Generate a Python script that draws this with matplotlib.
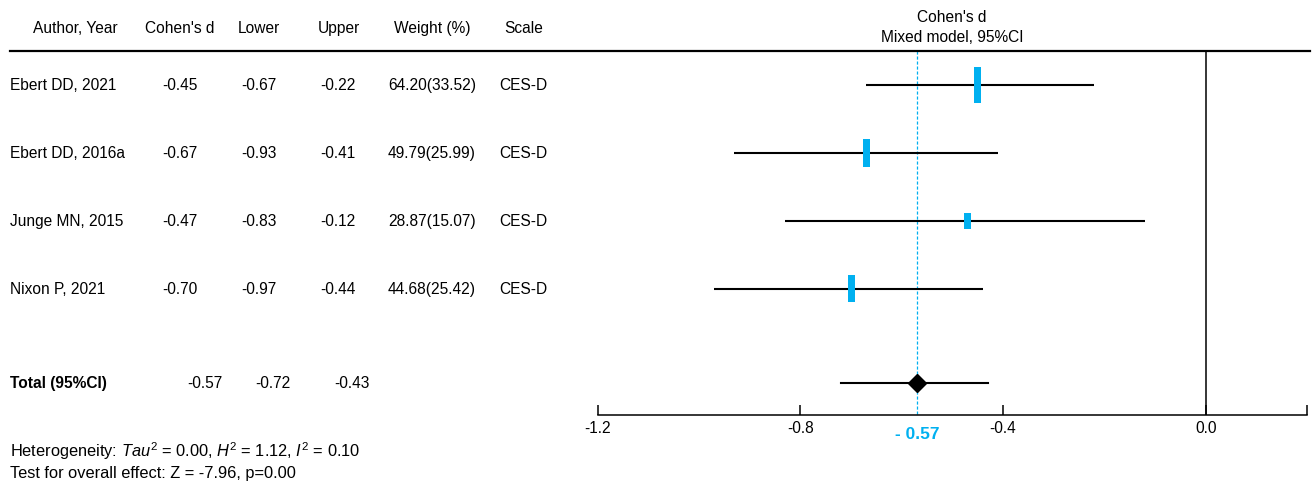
import matplotlib.pyplot as plt
import matplotlib.transforms as mtransforms
from matplotlib.lines import Line2D

plt.rcParams['font.family'] = ['Liberation Sans', 'DejaVu Sans']
plt.rcParams['mathtext.fontset'] = 'custom'
plt.rcParams['mathtext.rm'] = 'Liberation Sans'
plt.rcParams['mathtext.it'] = 'Liberation Sans:italic'

# data
studies = ['Ebert DD, 2021', 'Ebert DD, 2016a', 'Junge MN, 2015', 'Nixon P, 2021']
cohens_d = [-0.45, -0.67, -0.47, -0.70]
lower = [-0.67, -0.93, -0.83, -0.97]
upper = [-0.22, -0.41, -0.12, -0.44]
weight_raw = ['64.20', '49.79', '28.87', '44.68']
weight_pct = [33.52, 25.99, 15.07, 25.42]
scale = ['CES-D', 'CES-D', 'CES-D', 'CES-D']
total_d, total_lo, total_hi = -0.57, -0.72, -0.43
xticks = [-1.2, -0.8, -0.4, 0.0]
headers = ['Author, Year', "Cohen's d", 'Lower', 'Upper', 'Weight (%)', 'Scale']

blue = '#00B0F0'
fs = 11.2

W, H = 1312, 484
fig = plt.figure(figsize=(W / 100, H / 100), dpi=100)
ax = fig.add_axes([597.7 / W, (H - 415) / H, (1307 - 597.7) / W, (415 - 51) / H])

row_px = 68.0
y_top, y_bot = (51 - 84) / row_px, (415 - 84) / row_px
ax.set_xlim(-1.2, 0.2)
ax.set_ylim(y_bot, y_top)
total_y = (383 - 84) / row_px

# study CIs and weight boxes
px_x = 1.4 / (1307 - 597.7)
for i in range(len(studies)):
    ax.plot([lower[i], upper[i]], [i + 0.01, i + 0.01], color='black', lw=1.5, solid_capstyle='butt', zorder=2)
    h = weight_pct[i] * 1.07 / row_px
    ax.bar(cohens_d[i], h, width=7 * px_x, bottom=i + 0.01 - h / 2, color=blue, zorder=3)

# pooled estimate
ax.plot([total_lo, total_hi], [total_y, total_y], color='black', lw=1.5, zorder=2)
ax.plot(total_d, total_y, marker='D', color='black', markersize=9.5, zorder=4)
ax.plot([total_d, total_d], [y_top, y_bot], color=blue, lw=0.9, ls=(0, (2.5, 1.5)), zorder=1)
ax.plot([0, 0], [y_top, y_bot], color='black', lw=1.1, zorder=1)

# axis
for s in ['left', 'top', 'right']:
    ax.spines[s].set_visible(False)
ax.spines['bottom'].set_linewidth(1.1)
ax.set_xticks(xticks + [0.2])
ax.set_xticklabels(['%.1f' % t for t in xticks] + [''], fontsize=fs)
ax.tick_params(axis='x', direction='in', length=7.5, width=1.1, pad=4)
ax.set_yticks([])
ax.text(total_d, (434 - 84) / row_px, '- %.2f' % abs(total_d), color=blue, fontsize=12.5,
        fontweight='bold', ha='center', va='center', clip_on=False)

# table text
tr = mtransforms.blended_transform_factory(fig.transFigure, ax.transData)
def put(xpx, y, s, **kw):
    ax.text(xpx / W, y, s, transform=tr, va='center', clip_on=False, **kw)

header_x = [75, 180, 259, 339, 432, 524]
hy = (29 - 84) / row_px
for x, s in zip(header_x, headers):
    put(x, hy, s, ha='center', fontsize=fs)

for i in range(len(studies)):
    put(10, i + 0.02, studies[i], ha='left', fontsize=fs)
    put(180, i + 0.02, '%.2f' % cohens_d[i], ha='center', fontsize=fs)
    put(259, i + 0.02, '%.2f' % lower[i], ha='center', fontsize=fs)
    put(338, i + 0.02, '%.2f' % upper[i], ha='center', fontsize=fs)
    put(432, i + 0.02, '%s(%.2f)' % (weight_raw[i], weight_pct[i]), ha='center', fontsize=fs)
    put(523, i + 0.02, scale[i], ha='center', fontsize=fs)

put(10, total_y, 'Total (95%CI)', ha='left', fontweight='bold', fontsize=fs)
put(205, total_y, '%.2f' % total_d, ha='center', fontsize=fs)
put(273, total_y, '%.2f' % total_lo, ha='center', fontsize=fs)
put(352, total_y, '%.2f' % total_hi, ha='center', fontsize=fs)

put(10, (451 - 84) / row_px, r'Heterogeneity: $Tau^2$ = 0.00, $H^2$ = 1.12, $I^2$ = 0.10', ha='left', fontsize=11.8)
put(10, (473 - 84) / row_px, 'Test for overall effect: Z = -7.96, p=0.00', ha='left', fontsize=11.8)

put(952, (18 - 84) / row_px, "Cohen's d", ha='center', fontsize=fs)
put(952, (38 - 84) / row_px, 'Mixed model, 95%CI', ha='center', fontsize=fs)

# header rule
fig.add_artist(Line2D([10 / W, 1310 / W], [y_top, y_top], transform=tr, color='black', lw=1.6))

plt.savefig('out.png', dpi=100)
